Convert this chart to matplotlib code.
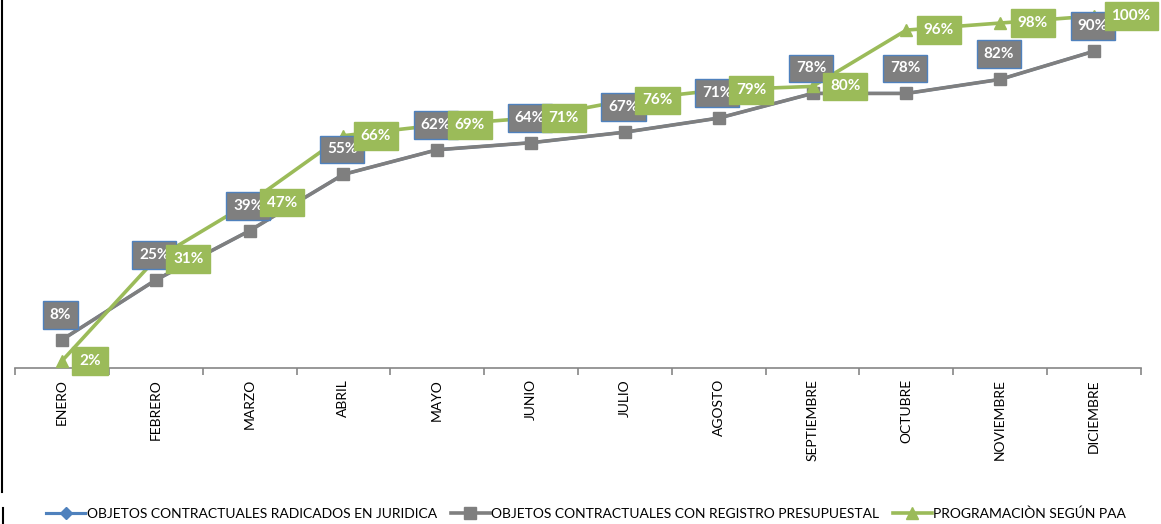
import matplotlib
matplotlib.use("Agg")
import matplotlib.pyplot as plt
from matplotlib.lines import Line2D

plt.rcParams['font.family'] = ['Lato', 'DejaVu Sans']

months = ["ENERO", "FEBRERO", "MARZO", "ABRIL", "MAYO", "JUNIO", "JULIO",
          "AGOSTO", "SEPTIEMBRE", "OCTUBRE", "NOVIEMBRE", "DICIEMBRE"]
radicados = [0.08, 0.25, 0.39, 0.55, 0.62, 0.64, 0.67, 0.71, 0.78, 0.78, 0.82, 0.90]
registro = [0.08, 0.25, 0.39, 0.55, 0.62, 0.64, 0.67, 0.71, 0.78, 0.78, 0.82, 0.90]
programacion = [0.02, 0.31, 0.47, 0.66, 0.69, 0.71, 0.76, 0.79, 0.80, 0.96, 0.98, 1.00]

labels = ["OBJETOS CONTRACTUALES RADICADOS EN JURIDICA",
          "OBJETOS CONTRACTUALES CON REGISTRO PRESUPUESTAL",
          "PROGRAMACIÒN SEGÚN PAA"]

BLUE = "#4F81BD"
GRAY = "#7F7F7F"
GREEN = "#9BBB59"

fig = plt.figure(figsize=(11.61, 5.24), dpi=100)
ax = fig.add_axes([15/1161, 1 - 368/524, 1126/1161, 368/524])

x = list(range(len(months)))
ax.plot(x, radicados, color=BLUE, lw=2.25, marker='D', ms=6, zorder=2, label=labels[0])
ax.plot(x, registro, color=GRAY, lw=2.6, marker='s', ms=9, zorder=3, label=labels[1])
ax.plot(x, programacion, color=GREEN, lw=2.6, marker='^', ms=9, zorder=4, label=labels[2])

ax.set_xlim(-0.5, len(months) - 0.5)
ax.set_ylim(0, 368/352)

for i, v in enumerate(registro):
    ax.annotate(f"{round(v*100)}%", (i, v), xytext=(-1, 18), textcoords='offset points',
                ha='center', va='center', color='white', fontsize=11, fontweight='bold',
                bbox=dict(boxstyle='square,pad=0.45', fc=GRAY, ec=BLUE, lw=1), zorder=10)
for i, v in enumerate(programacion):
    ax.annotate(f"{round(v*100)}%", (i, v), xytext=(12.5, 0), textcoords='offset points',
                ha='left', va='center', color='white', fontsize=11, fontweight='bold',
                bbox=dict(boxstyle='square,pad=0.45', fc=GREEN, ec=GREEN, lw=1), zorder=11)

for s in ['top', 'right', 'left']:
    ax.spines[s].set_visible(False)
ax.spines['bottom'].set_color('#868686')
ax.spines['bottom'].set_linewidth(1.2)
ax.set_yticks([])
ax.set_xticks(x)
ax.set_xticklabels(months, rotation=90, fontsize=10)
ax.tick_params(axis='x', which='major', length=0, pad=8)
ax.set_xticks([i - 0.5 for i in range(len(months) + 1)], minor=True)
ax.tick_params(axis='x', which='minor', length=5, color='#868686', width=1.2)

leg = fig.legend(loc='center', bbox_to_anchor=(0.505, 1 - 514/524), ncol=3, frameon=False,
                 fontsize=10, handlelength=2.8, columnspacing=1.0, handletextpad=0.1)

fig.add_artist(Line2D([1.5/1161, 1.5/1161], [1 - 492/524, 1], color='black', lw=1.5,
                      transform=fig.transFigure))
fig.add_artist(Line2D([2.5/1161, 2.5/1161], [0, 1 - 508/524], color='black', lw=1.5,
                      transform=fig.transFigure))

fig.savefig("out.png", dpi=100)
